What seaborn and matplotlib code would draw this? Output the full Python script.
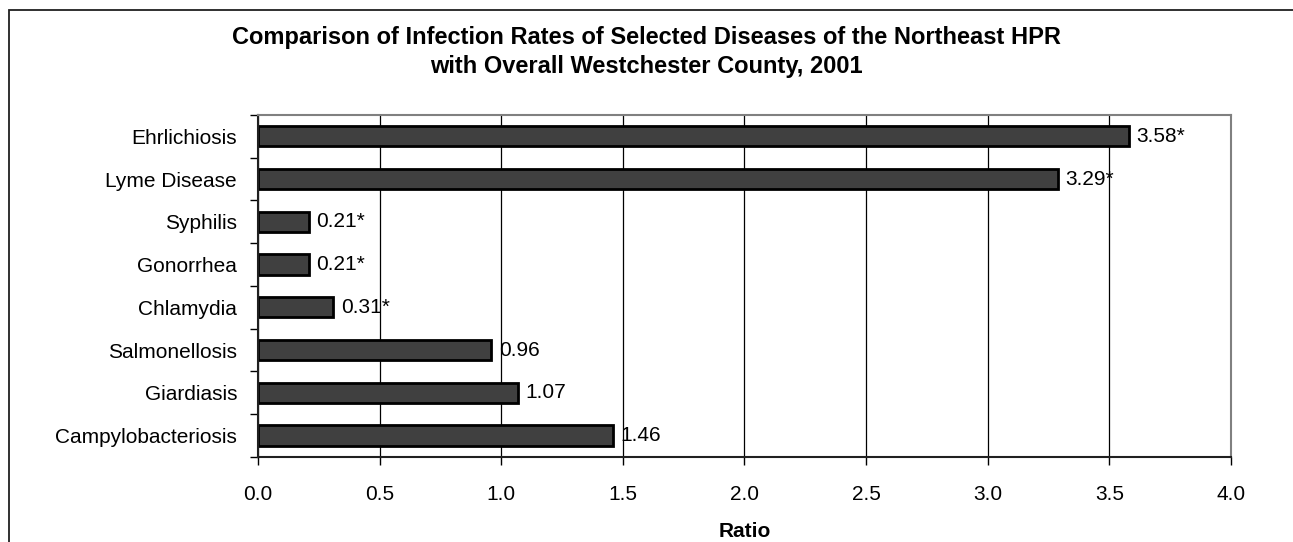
import matplotlib.pyplot as plt
import matplotlib.patches as mpatches
import numpy as np
import pandas as pd
import seaborn as sns

# データ
DISEASES = [
    "Ehrlichiosis",
    "Lyme Disease",
    "Syphilis",
    "Gonorrhea",
    "Chlamydia",
    "Salmonellosis",
    "Giardiasis",
    "Campylobacteriosis",
]
RATIOS = [3.58, 3.29, 0.21, 0.21, 0.31, 0.96, 1.07, 1.46]
LABELS = ["3.58*", "3.29*", "0.21*", "0.21*", "0.31*", "0.96", "1.07", "1.46"]
X_TICKS = [0.0, 0.5, 1.0, 1.5, 2.0, 2.5, 3.0, 3.5, 4.0]

sns.set_style("white")
plt.rcParams["font.family"] = ["Liberation Sans", "DejaVu Sans"]
plt.rcParams["text.color"] = "black"
plt.rcParams["axes.labelcolor"] = "black"
plt.rcParams["xtick.color"] = "black"
plt.rcParams["ytick.color"] = "black"

df = pd.DataFrame({"disease": DISEASES, "ratio": RATIOS})

fig = plt.figure(figsize=(12.93, 5.42), dpi=100)
ax = fig.add_axes([0.1995, 0.157, 0.7525, 0.631])

# 外枠
fig.patches.append(
    mpatches.Rectangle(
        (9 / 1293, -0.1), 1.2, 1 - 10 / 542 + 0.1,
        transform=fig.transFigure, fill=False, edgecolor="#202020", linewidth=1.3,
    )
)

ax.set_axisbelow(True)
ax.grid(axis="x", color="black", linewidth=0.9)

sns.barplot(
    data=df, x="ratio", y="disease", order=DISEASES, ax=ax,
    color="#404040", saturation=1, edgecolor="black", linewidth=2, width=0.47,
)

for i, (v, lab) in enumerate(zip(RATIOS, LABELS)):
    ax.text(v + 0.03, i, lab, va="center", ha="left", fontsize=15)

ax.set_xlim(0, 4.0)
ax.set_ylim(len(DISEASES) - 0.5, -0.5)
ax.set_xticks(X_TICKS)
ax.set_xticklabels([f"{t:.1f}" for t in X_TICKS], fontsize=15)
ax.tick_params(axis="x", length=6, width=1, color="black", bottom=True, pad=14)
ax.tick_params(axis="y", which="major", length=0, labelsize=15, pad=15)
ax.set_yticks(np.arange(-0.5, len(DISEASES)), minor=True)
ax.tick_params(axis="y", which="minor", length=6, width=1, color="black", left=True)

ax.set_xlabel("Ratio", fontsize=15, fontweight="bold", labelpad=13)
ax.set_ylabel("")

for side in ["left", "bottom"]:
    ax.spines[side].set_color("#202020")
    ax.spines[side].set_linewidth(1.5)
for side in ["top", "right"]:
    ax.spines[side].set_color("#808080")
    ax.spines[side].set_linewidth(1.5)

fig.text(
    0.5, 1 - 52 / 542,
    "Comparison of Infection Rates of Selected Diseases of the Northeast HPR\nwith Overall Westchester County, 2001",
    ha="center", va="center", fontsize=17, fontweight="bold", linespacing=1.3,
)

fig.savefig("out.png", dpi=100)
